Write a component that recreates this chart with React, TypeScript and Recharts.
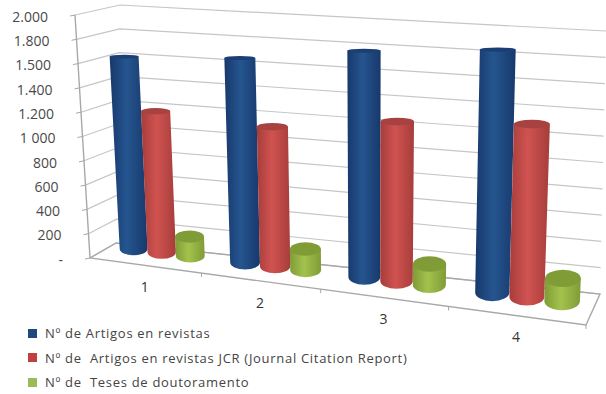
import React from 'react';
import { BarChart, Bar, XAxis, YAxis, CartesianGrid, Legend } from 'recharts';

const categories = ['1', '2', '3', '4'];
const artigos = [1620, 1670, 1790, 1860];
const artigosJcr = [1180, 1130, 1250, 1310];
const teses = [160, 168, 162, 170];
const valueTicks = [0, 200, 400, 600, 800, 1000, 1200, 1400, 1600, 1800, 2000];
const tickLabels = ['-', '200', '400', '600', '800', '1 000', '1.200', '1.400', '1.500', '1.800', '2.000'];
const seriesNames = [
  'Nº de Artigos en revistas',
  'Nº de  Artigos en revistas JCR (Journal Citation Report)',
  'Nº de  Teses de doutoramento',
];

const rows = categories.map((name, i) => ({
  name,
  artigos: artigos[i],
  artigosJcr: artigosJcr[i],
  teses: teses[i],
}));

const WIDTH = 606;
const HEIGHT = 394;
const PLOT = { left: 100, top: 20, width: 480, height: 240 };

type Pt = [number, number];
const mix = (a: number, b: number, t: number) => a + (b - a) * t;
const mixPt = (a: Pt, b: Pt, t: number): Pt => [mix(a[0], b[0], t), mix(a[1], b[1], t)];

// Box corners of the fake 3D scene
const FRONT_LEFT_TOP: Pt = [75, 15];
const FRONT_LEFT_BOTTOM: Pt = [90, 258];
const BACK_LEFT_TOP: Pt = [120, 5];
const BACK_LEFT_BOTTOM: Pt = [116, 243];
const BACK_RIGHT_TOP: Pt = [606, 31];
const BACK_RIGHT_BOTTOM: Pt = [600, 294];
const FRONT_RIGHT_BOTTOM: Pt = [586, 325];

// Plane the cylinders stand on, halfway through the depth of the box
const MID_BOTTOM_LEFT: Pt = [108, 246];
const MID_BOTTOM_RIGHT: Pt = [596, 305];
const MID_TOP_LEFT: Pt = [95, 10];
const MID_TOP_RIGHT: Pt = [607, 37];

// Bands get wider to the right
const perspective = (u: number) => u / (u + 1.15 * (1 - u));

// Plot coordinates to screen coordinates on the mid plane
const project = (x: number, y: number): Pt => {
  const u = perspective((x - PLOT.left) / PLOT.width);
  const v = (y - PLOT.top) / PLOT.height;
  const top = mixPt(MID_TOP_LEFT, MID_TOP_RIGHT, u);
  const bottom = mixPt(MID_BOTTOM_LEFT, MID_BOTTOM_RIGHT, u);
  return mixPt(top, bottom, v);
};

// Ellipses open up the lower they sit
const ellipseRatio = (y: number) => 0.12 + Math.max(0, y - 50) * 0.0016;

const Cylinder = (props: any) => {
  const { x, y, width, height, gradient, cap } = props;
  const tl = project(x, y);
  const tr = project(x + width, y);
  const bl = project(x, y + height);
  const br = project(x + width, y + height);
  // caps stay level, only their centre follows the slope of the floor
  const topY = (tl[1] + tr[1]) / 2;
  const botY = (bl[1] + br[1]) / 2;
  const topRx = (tr[0] - tl[0]) / 2;
  const botRx = (br[0] - bl[0]) / 2;
  const topRy = topRx * ellipseRatio(topY);
  const botRy = botRx * ellipseRatio(botY);
  const body = `M${tl[0]},${topY} L${bl[0]},${botY} A${botRx},${botRy} 0 0 0 ${br[0]},${botY} L${tr[0]},${topY} Z`;
  return (
    <g>
      <path d={body} fill={`url(#${gradient})`} />
      <ellipse cx={(tl[0] + tr[0]) / 2} cy={topY} rx={topRx} ry={topRy} fill={cap} />
    </g>
  );
};

// Horizontal grid folded over the left wall and the back wall
const WallLine = (props: any) => {
  const t = (props.y1 - PLOT.top) / PLOT.height;
  const a = mixPt(FRONT_LEFT_TOP, FRONT_LEFT_BOTTOM, t);
  const b = mixPt(BACK_LEFT_TOP, BACK_LEFT_BOTTOM, t);
  const c = mixPt(BACK_RIGHT_TOP, BACK_RIGHT_BOTTOM, t);
  return (
    <polyline
      points={`${a[0]},${a[1]} ${b[0]},${b[1]} ${c[0]},${c[1]}`}
      fill="none"
      stroke="#c6c6c6"
      strokeWidth={1.2}
    />
  );
};

const ValueTick = (props: any) => {
  const t = (props.y - PLOT.top) / PLOT.height;
  const p = mixPt(FRONT_LEFT_TOP, FRONT_LEFT_BOTTOM, t);
  const i = valueTicks.indexOf(props.payload.value);
  return (
    <g>
      <line x1={p[0] - 5} y1={p[1] + 1} x2={p[0]} y2={p[1]} stroke="#a8a8a8" />
      <text
        x={p[0] - 27}
        y={p[1] + 3}
        textAnchor="end"
        dominantBaseline="middle"
        fontFamily="Open Sans"
        fontSize={14}
        fill="#4a4a4a"
      >
        {tickLabels[i]}
      </text>
    </g>
  );
};

const CategoryTick = (props: any) => {
  const u = perspective((props.x - PLOT.left) / PLOT.width);
  const p = mixPt(FRONT_LEFT_BOTTOM, FRONT_RIGHT_BOTTOM, u);
  return (
    <text
      x={p[0]}
      y={p[1] + 23}
      textAnchor="middle"
      dominantBaseline="middle"
      fontFamily="Open Sans"
      fontSize={14}
      fill="#333"
    >
      {props.payload.value}
    </text>
  );
};

const LegendList = () => (
  <div style={{ fontFamily: 'Open Sans', fontSize: 13, color: '#444', letterSpacing: 0.7 }}>
    {seriesNames.map((name, i) => (
      <div key={name} style={{ display: 'flex', alignItems: 'center', height: 24.5, whiteSpace: 'pre' }}>
        <span
          style={{
            width: 9,
            height: 9,
            marginRight: 8,
            background: ['#1f497d', '#c0403e', '#9bbb59'][i],
          }}
        />
        {name}
      </div>
    ))}
  </div>
);

// Floor outline and the category tick marks along the front edge
const Floor = () => {
  const marks = [0.25, 0.5, 0.75, 1].map((u) => mixPt(FRONT_LEFT_BOTTOM, FRONT_RIGHT_BOTTOM, perspective(u)));
  const outline = [FRONT_LEFT_TOP, FRONT_LEFT_BOTTOM, FRONT_RIGHT_BOTTOM, BACK_RIGHT_BOTTOM, BACK_LEFT_BOTTOM, FRONT_LEFT_BOTTOM]
    .map((p) => p.join(','))
    .join(' ');
  return (
    <g>
      <polyline points={outline} fill="none" stroke="#a8a8a8" strokeWidth={1.4} />
      {marks.map((p, i) => (
        <line key={i} x1={p[0]} y1={p[1]} x2={p[0]} y2={p[1] + 4} stroke="#a8a8a8" />
      ))}
    </g>
  );
};

const gradientStops = [
  { id: 'blueSide', edge: '#17396c', mid: '#25558f' },
  { id: 'redSide', edge: '#a63d3b', mid: '#d05350' },
  { id: 'greenSide', edge: '#7f9c37', mid: '#a3c24c' },
];

export default function App() {
  return (
    <div style={{ position: 'absolute', left: 0, top: 0, background: '#fff' }}>
      <BarChart
        width={WIDTH}
        height={HEIGHT}
        data={rows}
        margin={{
          top: PLOT.top,
          left: 0,
          right: WIDTH - PLOT.left - PLOT.width,
          bottom: 0,
        }}
        barCategoryGap="11%"
        barGap={0}
      >
        <defs>
          {gradientStops.map((g) => (
            <linearGradient key={g.id} id={g.id} x1="0" y1="0" x2="1" y2="0">
              <stop offset="0%" stopColor={g.edge} />
              <stop offset="45%" stopColor={g.mid} />
              <stop offset="100%" stopColor={g.edge} />
            </linearGradient>
          ))}
        </defs>
        <CartesianGrid vertical={false} horizontal={(p: any) => <WallLine key={p.key} {...p} />} />
        <XAxis dataKey="name" axisLine={false} tickLine={false} height={HEIGHT - PLOT.top - PLOT.height} tick={<CategoryTick />} interval={0} />
        <YAxis
          type="number"
          domain={[0, 2000]}
          ticks={valueTicks}
          axisLine={false}
          tickLine={false}
          width={PLOT.left}
          tick={<ValueTick />}
          interval={0}
        />
        <Floor />
        <Bar dataKey="artigos" name={seriesNames[0]} isAnimationActive={false} shape={<Cylinder gradient="blueSide" cap="#1b3f75" />} />
        <Bar dataKey="artigosJcr" name={seriesNames[1]} isAnimationActive={false} shape={<Cylinder gradient="redSide" cap="#a84240" />} />
        <Bar dataKey="teses" name={seriesNames[2]} isAnimationActive={false} shape={<Cylinder gradient="greenSide" cap="#7f9c37" />} />
        {/* centred and vertical so the legend takes no room from the plot */}
        <Legend
          content={<LegendList />}
          layout="vertical"
          align="center"
          verticalAlign="middle"
          wrapperStyle={{ position: 'absolute', left: 28, top: 321, width: 500, bottom: 'auto' }}
        />
      </BarChart>
    </div>
  );
}
